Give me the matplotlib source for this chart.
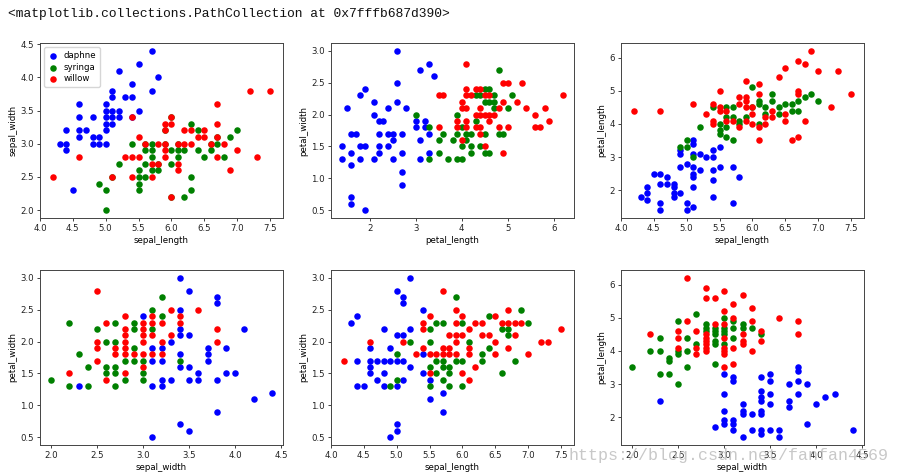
import numpy as np
import matplotlib.pyplot as plt

#FEATURE NAMES AND GROUPS
names = ['daphne', 'syringa', 'willow']
colors = ['b', 'g', 'r']

#PANEL 1 : sepal_length / sepal_width
p1_daphne = [(4.3,3.0),(4.4,3.0),(4.4,2.9),(4.4,3.2),(4.5,2.3),(4.6,3.6),(4.6,3.4),(4.6,3.2),
             (4.6,3.1),(4.7,3.2),(4.8,3.4),(4.8,3.1),(4.8,3.0),(4.9,3.1),(4.9,3.0),(5.0,3.6),
             (5.0,3.5),(5.0,3.4),(5.0,3.3),(5.0,3.2),(5.0,3.0),(5.1,3.8),(5.1,3.7),(5.1,3.5),
             (5.1,3.4),(5.1,3.3),(5.2,4.1),(5.2,3.5),(5.2,3.4),(5.3,3.7),(5.4,3.9),(5.4,3.7),
             (5.4,3.4),(5.5,4.2),(5.5,3.5),(5.7,4.4),(5.7,3.8),(5.8,4.0)]
p1_syringa = [(7.0,3.2),(6.4,3.2),(6.9,3.1),(5.5,2.3),(6.5,2.8),(5.7,2.8),(6.3,3.3),(4.9,2.4),
              (6.6,2.9),(5.2,2.7),(5.0,2.0),(5.9,3.0),(6.0,2.2),(6.1,2.9),(5.6,2.9),(6.7,3.1),
              (5.6,3.0),(5.8,2.7),(6.2,2.2),(5.6,2.5),(5.9,3.2),(6.1,2.8),(6.3,2.5),(6.4,2.9),
              (6.6,3.0),(6.8,2.8),(6.7,3.0),(6.0,2.9),(5.7,2.6),(5.5,2.4),(6.0,2.7),(5.4,3.0),
              (6.0,3.4),(6.3,2.3),(5.5,2.5),(5.5,2.6),(6.1,3.0),(5.8,2.6),(5.0,2.3),(5.6,2.7),
              (5.7,3.0),(5.7,2.9),(6.2,2.9),(5.1,2.5)]
p1_willow = [(4.2,2.5),(4.6,2.8),(5.1,2.5),(5.3,2.8),(5.4,3.4),(5.4,2.8),(5.4,2.5),(5.5,3.1),
             (5.5,2.8),(5.6,3.0),(5.7,2.7),(5.7,2.5),(5.8,3.0),(5.8,2.7),(5.9,3.3),(5.9,3.2),
             (5.9,3.0),(5.9,2.9),(5.9,2.8),(6.0,3.4),(6.0,3.3),(6.0,2.2),(6.1,3.0),(6.1,2.7),
             (6.1,2.6),(6.2,3.2),(6.2,3.0),(6.3,3.2),(6.3,3.0),(6.4,3.1),(6.5,3.2),(6.5,3.1),
             (6.6,3.0),(6.7,3.6),(6.7,3.3),(6.7,3.1),(6.7,2.8),(6.8,3.0),(6.9,2.6),(7.0,2.9),
             (7.2,3.8),(7.3,2.8),(7.5,3.8)]

#PANEL 2 : petal_length / petal_width
p2_daphne = [(1.4,1.5),(1.4,1.3),(1.5,2.1),(1.6,1.7),(1.6,1.4),(1.6,1.2),(1.6,0.7),(1.6,0.6),
             (1.7,1.7),(1.8,2.3),(1.8,1.5),(1.8,1.3),(1.9,2.4),(1.9,1.5),(1.9,0.5),(2.1,2.2),
             (2.1,2.0),(2.1,1.3),(2.2,1.9),(2.2,1.7),(2.2,1.5),(2.2,1.4),(2.3,1.9),(2.4,2.1),
             (2.4,1.7),(2.4,1.5),(2.5,1.7),(2.5,1.6),(2.5,1.3),(2.6,3.0),(2.6,2.5),(2.6,2.2),
             (2.7,1.7),(2.7,1.4),(2.7,1.1),(2.7,0.9),(2.8,2.1),(3.0,1.9),(3.0,1.8),(3.1,2.7),
             (3.1,1.6),(3.1,1.3),(3.2,1.9),(3.2,1.8),(3.3,2.8),(3.3,1.7),(3.3,1.4),(3.4,2.6)]
p2_syringa = [(3.0,2.0),(3.3,1.8),(3.3,1.3),(3.5,1.6),(3.5,1.4),(3.6,1.7),(3.7,1.3),(3.8,1.6),
              (3.9,2.0),(3.9,1.7),(3.9,1.3),(4.0,1.8),(4.0,1.5),(4.0,1.3),(4.1,1.7),(4.1,1.6),
              (4.2,1.7),(4.2,1.5),(4.2,1.4),(4.3,2.3),(4.3,1.9),(4.4,2.3),(4.4,1.5),(4.5,2.4),
              (4.5,2.2),(4.5,1.7),(4.5,1.4),(4.6,2.4),(4.6,2.2),(4.6,1.4),(4.7,2.3),(4.7,2.2),
              (4.7,2.1),(4.8,2.7),(4.8,1.7),(4.9,1.7),(5.0,2.1),(5.1,2.3)]
p2_willow = [(3.5,2.3),(3.6,2.3),(3.5,1.8),(3.9,1.9),(3.9,1.8),(4.0,2.2),(4.0,2.1),(4.0,1.6),
             (4.1,2.8),(4.1,2.4),(4.1,2.3),(4.1,2.1),(4.1,1.9),(4.1,1.8),(4.2,2.3),(4.3,2.4),
             (4.3,2.0),(4.3,1.8),(4.4,2.4),(4.4,2.1),(4.4,2.0),(4.4,1.8),(4.4,1.7),(4.5,2.3),
             (4.5,2.0),(4.5,1.5),(4.6,2.3),(4.6,2.0),(4.6,1.9),(4.7,2.0),(4.8,2.1),(4.8,1.8),
             (4.9,2.5),(4.9,2.2),(4.9,1.4),(5.0,2.5),(5.0,1.8),(5.2,2.2),(5.3,2.5),(5.4,2.1),
             (5.6,2.0),(5.6,1.8),(5.7,1.8),(5.8,2.1),(5.9,1.9),(6.2,2.3)]

#PANEL 3 : sepal_length / petal_length
p3_daphne = [(4.3,1.8),(4.4,2.1),(4.4,1.9),(4.4,1.7),(4.5,2.5),(4.6,2.5),(4.6,2.2),(4.6,1.6),
             (4.6,1.4),(4.7,2.4),(4.7,2.2),(4.8,2.2),(4.8,2.1),(4.8,1.9),(4.8,1.8),(4.9,3.2),
             (4.9,3.1),(4.9,2.7),(4.9,1.9),(5.0,2.8),(5.0,1.6),(5.0,1.4),(5.1,3.5),(5.1,3.4),
             (5.1,3.1),(5.1,2.7),(5.1,2.5),(5.1,2.4),(5.1,2.1),(5.1,1.5),(5.2,3.1),(5.2,2.6),
             (5.3,3.0),(5.4,3.2),(5.4,3.0),(5.4,2.6),(5.4,2.3),(5.4,1.8),(5.5,3.3),(5.5,2.7),
             (5.7,2.7),(5.7,1.6),(5.8,2.4)]
p3_syringa = [(4.9,3.3),(5.0,3.5),(5.0,3.3),(5.1,3.0),(5.2,3.9),(5.4,4.5),(5.5,4.0),(5.5,3.8),
              (5.5,3.7),(5.6,4.5),(5.6,4.2),(5.6,3.9),(5.6,3.6),(5.7,4.5),(5.7,4.2),(5.7,3.5),
              (5.8,4.1),(5.8,4.0),(5.9,4.2),(6.0,5.1),(6.0,4.5),(6.1,4.7),(6.1,4.6),(6.1,4.0),
              (6.2,4.5),(6.2,4.3),(6.3,4.9),(6.3,4.7),(6.4,4.5),(6.4,4.3),(6.5,4.6),(6.6,4.6),
              (6.6,4.4),(6.7,4.7),(6.7,4.4),(6.8,4.8),(6.9,4.9),(7.0,4.7)]
p3_willow = [(4.2,4.4),(4.6,4.4),(5.1,4.6),(5.3,4.3),(5.4,4.6),(5.4,4.1),(5.4,4.0),(5.5,5.0),
             (5.5,4.5),(5.5,4.4),(5.6,4.4),(5.6,4.1),(5.7,4.1),(5.8,4.8),(5.8,4.6),(5.8,3.9),
             (5.9,5.3),(5.9,4.8),(5.9,4.7),(5.9,4.5),(5.9,4.1),(6.0,4.5),(6.0,4.3),(6.0,4.0),
             (6.1,5.2),(6.1,4.9),(6.1,3.9),(6.1,3.5),(6.2,4.2),(6.2,4.0),(6.3,4.4),(6.3,4.2),
             (6.4,5.4),(6.5,5.7),(6.5,4.3),(6.5,4.1),(6.6,3.5),(6.7,5.9),(6.7,5.0),(6.7,4.9),
             (6.7,3.6),(6.8,5.8),(6.8,4.1),(6.9,6.2),(7.0,5.6),(7.2,4.5),(7.3,5.6),(7.5,4.9)]

#PANEL 4 : sepal_width / petal_width
p4_daphne = [(2.3,1.3),(3.0,2.4),(3.1,1.9),(3.1,1.7),(3.1,1.3),(3.1,0.5),(3.2,1.9),(3.2,1.7),
             (3.2,1.4),(3.2,1.3),(3.3,2.0),(3.3,1.4),(3.4,3.0),(3.4,2.5),(3.4,2.2),(3.4,2.1),
             (3.4,1.8),(3.4,1.6),(3.4,0.7),(3.5,2.8),(3.5,2.1),(3.5,1.6),(3.5,1.4),(3.5,0.6),
             (3.6,1.5),(3.6,1.4),(3.7,1.9),(3.7,1.8),(3.7,1.7),(3.8,2.7),(3.8,2.6),(3.8,1.4),
             (3.8,0.9),(3.9,1.9),(3.9,1.5),(4.0,1.5),(4.1,2.2),(4.2,1.1),(4.4,1.2)]
p4_syringa = [(2.0,1.4),(2.2,2.3),(2.2,1.3),(2.3,1.8),(2.4,1.6),(2.4,1.3),(2.5,2.2),(2.6,2.0),
              (2.6,1.6),(2.6,1.5),(2.7,2.3),(2.7,2.0),(2.7,1.6),(2.7,1.5),(2.7,1.3),(2.8,1.7),
              (2.8,1.4),(2.9,2.3),(2.9,2.2),(2.9,1.9),(2.9,1.7),(3.0,1.7),(3.0,1.5),(3.0,1.4),
              (3.1,2.5),(3.1,2.2),(3.2,2.7),(3.2,2.4),(3.4,1.7)]
p4_willow = [(2.2,1.5),(2.5,2.8),(2.5,2.0),(2.5,1.9),(2.5,1.7),(2.6,2.3),(2.6,1.4),(2.7,1.9),
             (2.7,1.8),(2.8,2.4),(2.8,2.2),(2.8,2.1),(2.8,2.0),(2.8,1.9),(2.8,1.8),(2.8,1.5),
             (2.9,1.8),(3.0,2.3),(3.0,2.2),(3.0,2.1),(3.0,2.0),(3.0,1.8),(3.0,1.6),(3.1,2.4),
             (3.1,2.3),(3.1,2.1),(3.1,1.8),(3.2,2.3),(3.2,2.0),(3.2,1.8),(3.3,2.5),(3.3,2.1),
             (3.4,2.4),(3.4,2.3),(3.6,2.5),(3.8,2.2),(3.8,2.0)]

#PANEL 5 : sepal_length / petal_width
p5_daphne = [(4.3,2.3),(4.4,2.4),(4.4,1.7),(4.4,1.3),(4.5,1.3),(4.6,1.9),(4.6,1.7),(4.6,1.6),
             (4.6,1.5),(4.7,1.7),(4.7,1.4),(4.8,2.2),(4.8,1.7),(4.8,1.5),(4.8,1.3),(4.9,1.9),
             (4.9,1.7),(4.9,0.5),(5.0,2.8),(5.0,2.1),(5.0,1.7),(5.0,1.3),(5.0,0.7),(5.0,0.6),
             (5.1,2.7),(5.1,2.6),(5.1,2.1),(5.1,1.7),(5.1,1.4),(5.2,3.0),(5.2,2.2),(5.2,1.6),
             (5.4,2.5),(5.4,1.8),(5.4,1.5),(5.5,1.4),(5.5,1.1),(5.7,1.2),(5.7,0.9)]
p5_syringa = [(4.9,1.3),(5.0,1.8),(5.0,1.4),(5.2,2.0),(5.5,2.2),(5.5,2.0),(5.5,1.6),(5.5,1.3),
              (5.6,2.3),(5.6,1.7),(5.6,1.5),(5.7,2.3),(5.7,1.7),(5.7,1.6),(5.7,1.4),(5.8,1.6),
              (5.8,1.5),(5.8,1.3),(5.9,2.7),(5.9,1.7),(6.0,2.3),(6.0,1.7),(6.0,1.3),(6.1,2.0),
              (6.3,1.8),(6.3,1.7),(6.4,2.4),(6.4,1.9),(6.6,2.2),(6.6,1.5),(6.7,2.2),(6.7,2.1),
              (6.8,1.7),(6.9,2.5),(7.0,2.3)]
p5_willow = [(4.2,1.7),(4.6,2.0),(5.1,2.0),(5.3,1.8),(5.4,2.3),(5.4,2.2),(5.4,1.9),(5.5,2.4),
             (5.5,1.8),(5.5,1.5),(5.6,1.8),(5.7,2.8),(5.7,1.9),(5.7,1.8),(5.8,2.1),(5.8,1.9),
             (5.8,1.8),(5.9,2.5),(5.9,2.3),(5.9,2.1),(5.9,2.0),(5.9,1.8),(6.0,2.4),(6.0,2.1),
             (6.0,1.5),(6.1,2.2),(6.1,1.9),(6.1,1.8),(6.1,1.4),(6.2,2.3),(6.2,1.6),(6.3,2.3),
             (6.3,2.1),(6.4,2.1),(6.5,2.4),(6.5,2.0),(6.5,1.8),(6.6,2.3),(6.7,2.5),(6.7,2.3),
             (6.7,1.9),(6.8,2.3),(6.8,2.1),(6.9,2.3),(7.0,1.8),(7.2,2.0),(7.3,2.0),(7.5,2.2)]

#PANEL 6 : sepal_width / petal_length
p6_daphne = [(2.3,2.5),(2.9,1.7),(3.0,3.3),(3.0,2.7),(3.0,2.2),(3.0,1.9),(3.0,1.8),(3.1,3.2),
             (3.1,3.1),(3.1,1.9),(3.1,1.8),(3.1,1.6),(3.2,2.4),(3.2,2.2),(3.2,2.1),(3.2,1.4),
             (3.3,2.1),(3.3,1.6),(3.4,3.2),(3.4,2.8),(3.4,2.6),(3.4,2.5),(3.4,2.2),(3.4,2.1),
             (3.4,1.6),(3.4,1.5),(3.5,3.3),(3.5,3.1),(3.5,2.7),(3.5,2.4),(3.5,1.6),(3.6,1.6),
             (3.6,1.4),(3.7,3.0),(3.7,2.5),(3.7,2.3),(3.8,3.5),(3.8,3.4),(3.8,3.1),(3.8,2.7),
             (3.9,3.0),(3.9,1.8),(4.0,2.4),(4.1,2.6),(4.2,2.7),(4.4,1.6)]
p6_syringa = [(2.0,3.5),(2.2,4.0),(2.3,4.4),(2.3,4.0),(2.3,3.3),(2.4,3.8),(2.4,3.7),(2.4,3.3),
              (2.5,4.9),(2.5,4.0),(2.5,3.9),(2.5,3.0),(2.6,4.4),(2.6,4.0),(2.6,3.5),(2.7,5.1),
              (2.7,4.2),(2.8,4.8),(2.8,4.7),(2.8,4.6),(2.9,4.7),(2.9,4.6),(2.9,4.5),(2.9,4.3),
              (2.9,4.2),(2.9,3.6),(3.0,5.0),(3.0,4.7),(3.0,4.6),(3.0,4.5),(3.0,4.2),(3.1,4.9),
              (3.1,4.7),(3.1,4.4),(3.2,4.8),(3.2,4.7),(3.3,4.7),(3.4,4.5)]
p6_willow = [(2.2,4.5),(2.5,4.6),(2.5,4.4),(2.5,4.1),(2.6,6.2),(2.6,4.9),(2.7,4.6),(2.7,4.1),
             (2.7,3.9),(2.8,5.9),(2.8,5.6),(2.8,4.5),(2.8,4.4),(2.8,4.3),(2.8,4.2),(2.8,4.1),
             (2.8,4.0),(2.9,5.6),(2.9,4.8),(3.0,5.8),(3.0,5.2),(3.0,4.8),(3.0,4.4),(3.0,4.1),
             (3.0,4.0),(3.0,3.9),(3.0,3.5),(3.1,5.4),(3.1,5.0),(3.1,4.1),(3.1,3.6),(3.2,5.7),
             (3.2,4.5),(3.2,4.3),(3.2,4.2),(3.3,5.3),(3.3,4.9),(3.3,4.0),(3.4,4.6),(3.4,4.3),
             (3.6,5.0),(3.8,4.9),(3.8,4.5)]

panels = [('sepal_length', 'sepal_width', [p1_daphne, p1_syringa, p1_willow]),
          ('petal_length', 'petal_width', [p2_daphne, p2_syringa, p2_willow]),
          ('sepal_length', 'petal_length', [p3_daphne, p3_syringa, p3_willow]),
          ('sepal_width', 'petal_width', [p4_daphne, p4_syringa, p4_willow]),
          ('sepal_length', 'petal_width', [p5_daphne, p5_syringa, p5_willow]),
          ('sepal_width', 'petal_length', [p6_daphne, p6_syringa, p6_willow])]

fig = plt.figure(figsize=(9.01, 4.73), dpi=100)

#AXES POSITION (pixels of the 901x473 picture)
lefts = [40, 331, 621]
tops = [43, 270]
W = 243
H = 175

for k, (xl, yl, groups) in enumerate(panels):
    r, c = divmod(k, 3)
    ax = fig.add_axes([lefts[c]/901, 1-(tops[r]+H)/473, W/901, H/473])
    for pts, nm, col in zip(groups, names, colors):
        a = np.array(pts)
        ax.scatter(a[:, 0], a[:, 1], s=22, c=col, label=nm, linewidths=0)
    if xl == 'sepal_length':
        ax.set_xlim(4.0, 7.7)
    ax.set_xlabel(xl, fontsize=6.2, labelpad=2)
    ax.set_ylabel(yl, fontsize=6.2, labelpad=2)
    ax.tick_params(labelsize=6.2, length=2.5, width=0.6, pad=2, colors='#222222')
    for sp in ax.spines.values():
        sp.set_linewidth(0.7)
        sp.set_color('#444444')
    if k == 0:
        ax.legend(loc='upper left', fontsize=6.2, handlelength=1.2, handletextpad=0.6,
                  borderpad=0.45, labelspacing=0.3, scatterpoints=1)

#JUPYTER OUTPUT LINE
fig.text(8/901, 1-14/473, '<matplotlib.collections.PathCollection at 0x7fffb687d390>',
         family='Liberation Mono', fontsize=9.4, va='center', ha='left', color='#111111')

#WATERMARK (sits over the last panel's tick labels, as in the source picture)
fig.text(568/901, 1-455/473, 'https://blog.csdn.net/fanfan4569', family='Liberation Mono',
         fontsize=12, va='center', ha='left', color='#bbbbbb', alpha=0.8)

fig.savefig('out.png', dpi=100)
